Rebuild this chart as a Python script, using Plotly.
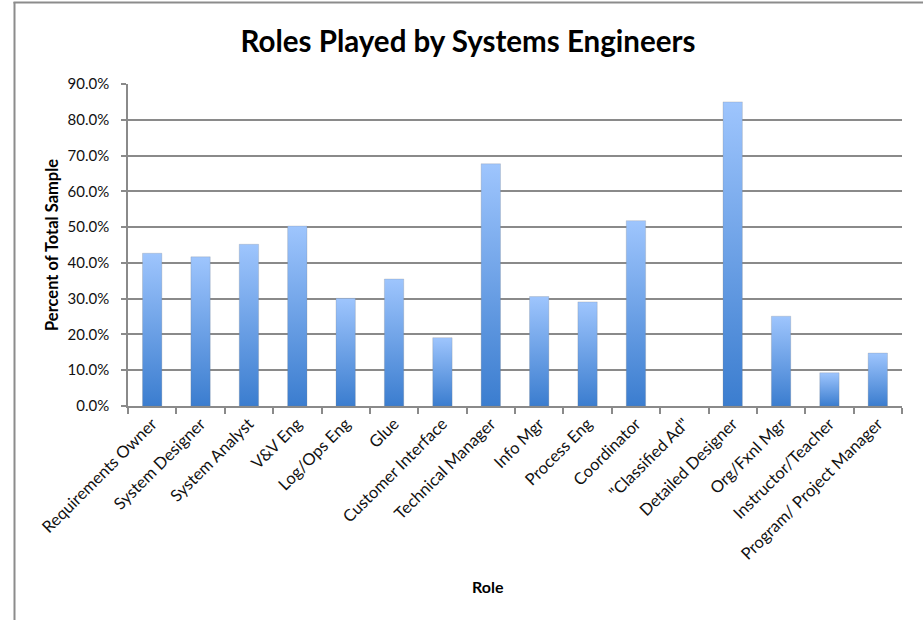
import plotly.graph_objects as go

# Survey results: share of respondents who reported playing each role
roles = [
    "Requirements Owner", "System Designer", "System Analyst", "V&V Eng",
    "Log/Ops Eng", "Glue", "Customer Interface", "Technical Manager",
    "Info Mgr", "Process Eng", "Coordinator", "\"Classified Ad\"",
    "Detailed Designer", "Org/Fxnl Mgr", "Instructor/Teacher",
    "Program/ Project Manager",
]
share = [
    0.427, 0.417, 0.452, 0.503,
    0.301, 0.355, 0.191, 0.677,
    0.306, 0.291, 0.518, 0.0,
    0.850, 0.251, 0.093, 0.148,
]
y_ticks = [0.0, 0.1, 0.2, 0.3, 0.4, 0.5, 0.6, 0.7, 0.8, 0.9]

W, H = 923, 620
M_L, M_R, M_T, M_B = 128, 21, 84, 214
GRID = "#8a8a8a"
BAR_TOP = "#9ec5fd"
BAR_BOTTOM = "#3b7dcf"
FONT = "Lato"
TEXT = "#111111"
HALF = 0.2  # half bar width, in category units

fig = go.Figure()

# Each column is a filled rectangle so it can carry its own top-to-bottom gradient
for i, v in enumerate(share):
    if v <= 0:
        continue
    fig.add_trace(go.Scatter(
        x=[i - HALF, i - HALF, i + HALF, i + HALF, i - HALF],
        y=[0, v, v, 0, 0],
        mode="lines",
        fill="toself",
        fillgradient=dict(
            type="vertical",
            colorscale=[[0, BAR_BOTTOM], [1, BAR_TOP]],
        ),
        line=dict(width=1, color="rgba(120,120,120,0.22)"),
        name=roles[i],
        hoverinfo="name+y",
        showlegend=False,
    ))

plot_w = W - M_L - M_R
plot_h = H - M_T - M_B


def px_x(px):
    return (px - M_L) / plot_w


def px_y(py):
    return (H - M_B - py) / plot_h


fig.update_layout(
    width=W,
    height=H,
    margin=dict(l=M_L, r=M_R, t=M_T, b=M_B, autoexpand=False),
    paper_bgcolor="white",
    plot_bgcolor="white",
    font=dict(family=FONT, size=15, color=TEXT),
    title=dict(
        text="<b>Roles Played by Systems Engineers</b>",
        x=0.507, xanchor="center",
        y=1 - 42 / H, yanchor="middle",
        font=dict(family=FONT, size=29.5, color="black"),
    ),
    xaxis=dict(
        range=[-0.5, len(roles) - 0.5],
        tickmode="array",
        tickvals=list(range(len(roles))),
        ticktext=roles,
        tickangle=-45,
        ticks="",
        showgrid=False,
        zeroline=False,
        showline=True,
        linecolor=GRID,
        linewidth=1.5,
        tickfont=dict(family=FONT, size=16.5, color=TEXT),
        minor=dict(
            tickmode="array",
            tickvals=[k - 0.5 for k in range(len(roles) + 1)],
            ticks="outside",
            ticklen=6,
            tickwidth=1.5,
            tickcolor=GRID,
            showgrid=False,
        ),
        fixedrange=True,
    ),
    yaxis=dict(
        range=[0, 0.9],
        tickmode="array",
        tickvals=y_ticks,
        tickformat=".1%",
        ticks="outside",
        ticklen=5,
        tickwidth=1.5,
        tickcolor=GRID,
        showgrid=True,
        gridcolor=GRID,
        gridwidth=1.5,
        zeroline=False,
        showline=True,
        linecolor=GRID,
        linewidth=1.5,
        ticklabelstandoff=9,
        tickfont=dict(family=FONT, size=15, color=TEXT),
        fixedrange=True,
    ),
    annotations=[
        dict(
            text="<b>Percent of Total Sample</b>",
            xref="paper", yref="paper",
            x=px_x(52), y=px_y(245),
            xanchor="center", yanchor="middle",
            textangle=-90, showarrow=False,
            font=dict(family=FONT, size=16.5, color="black"),
        ),
        dict(
            text="<b>Role</b>",
            xref="paper", yref="paper",
            x=px_x(488), y=px_y(586),
            xanchor="center", yanchor="middle",
            showarrow=False,
            font=dict(family=FONT, size=16, color="black"),
        ),
    ],
    shapes=[
        # outer frame: left and top edges of the chart box
        dict(type="line", xref="paper", yref="paper",
             x0=px_x(14.5), x1=px_x(14.5), y0=px_y(2), y1=px_y(H + 2),
             line=dict(color="#8c8c8c", width=2)),
        dict(type="line", xref="paper", yref="paper",
             x0=px_x(13.5), x1=px_x(W + 2), y0=px_y(2.5), y1=px_y(2.5),
             line=dict(color="#8c8c8c", width=2)),
    ],
)

fig.write_html("out.html")
